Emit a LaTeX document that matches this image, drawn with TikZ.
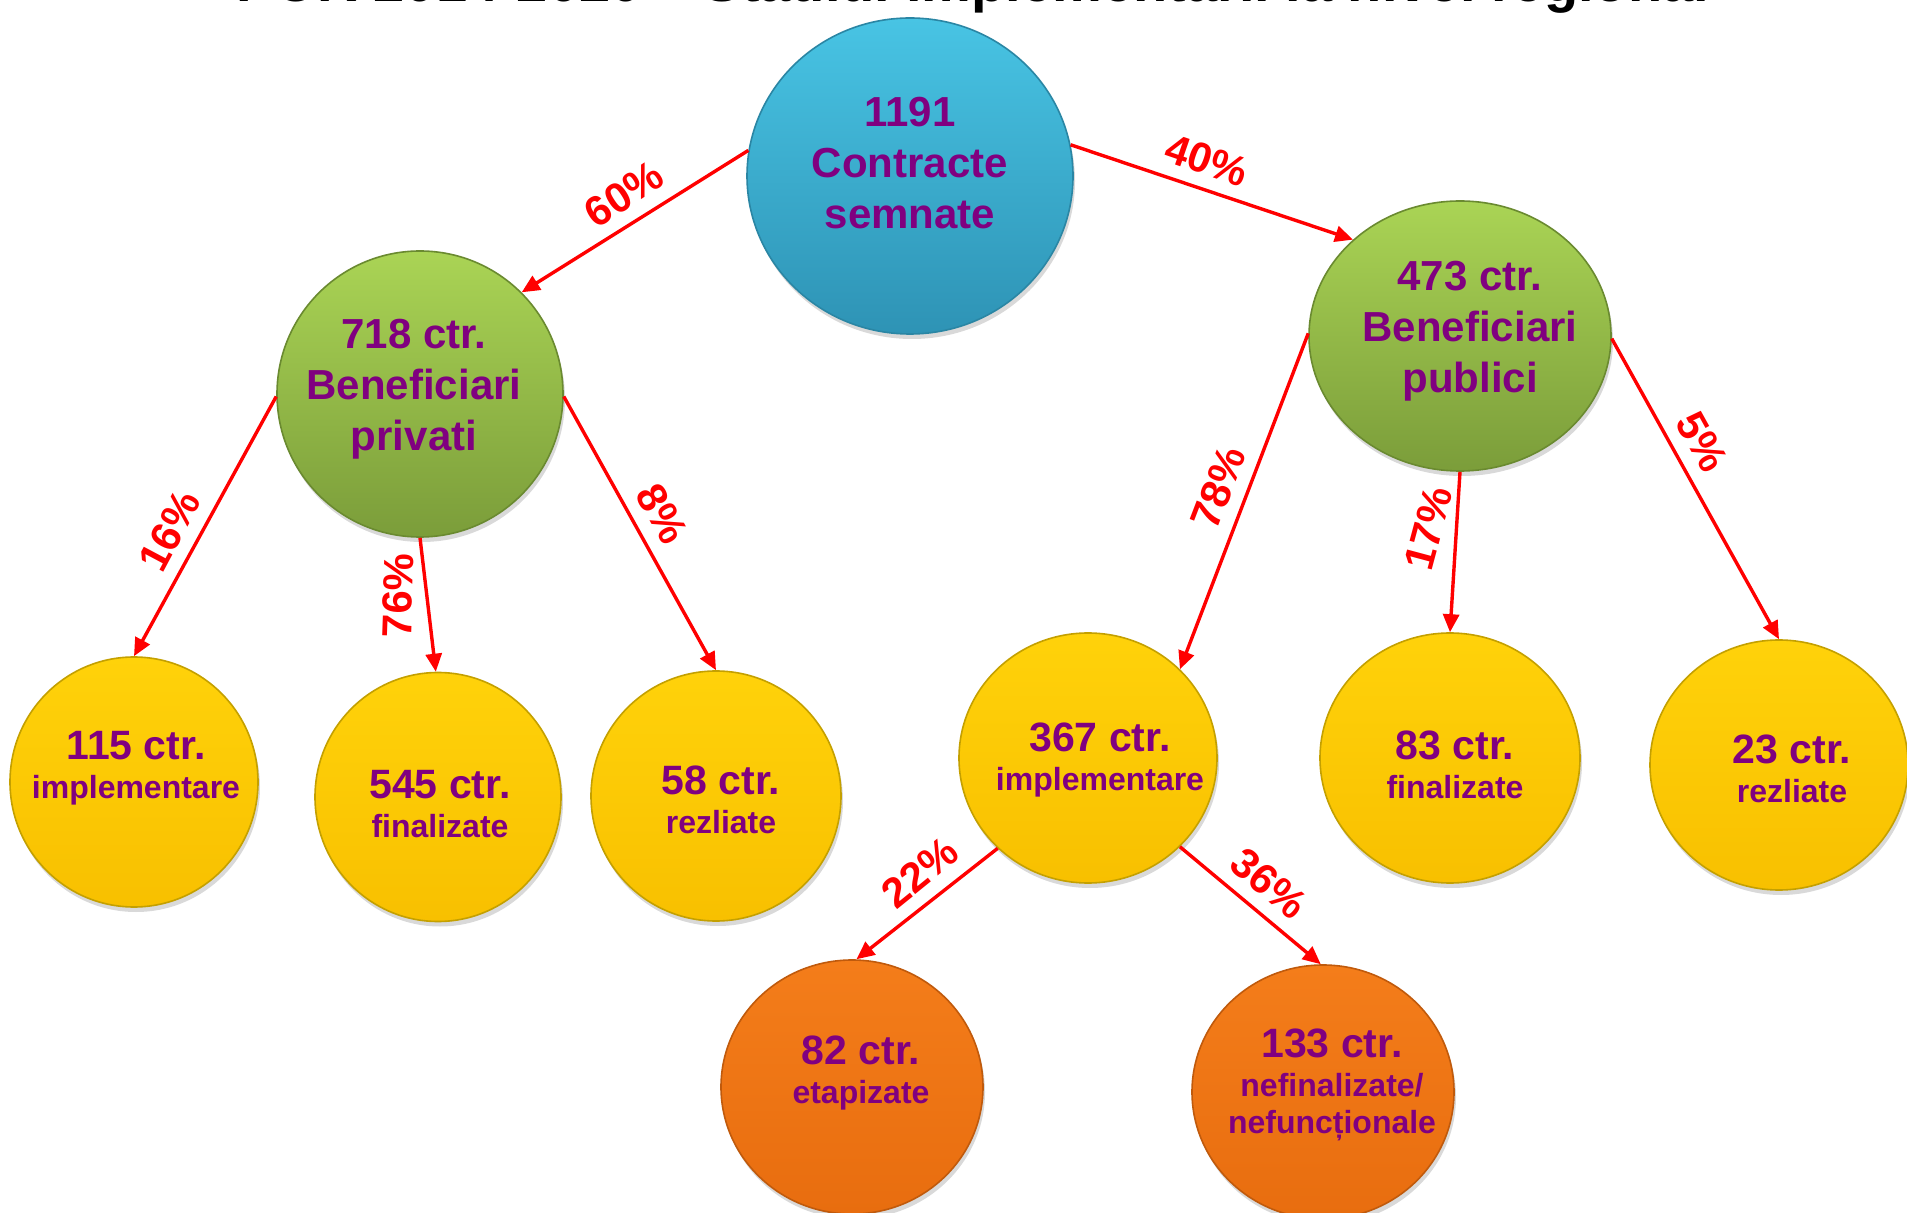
\documentclass[tikz,border=0pt]{standalone}
\usepackage{fontspec}
\setmainfont{Liberation Sans}
\usepackage{tikz}
\usetikzlibrary{shapes.geometric,arrows.meta,shadows}
\definecolor{plum}{HTML}{800080}
\definecolor{skyT}{HTML}{48C4E4}
\definecolor{skyB}{HTML}{2E93B5}
\definecolor{skyD}{HTML}{2A86A4}
\definecolor{grassT}{HTML}{AAD455}
\definecolor{grassB}{HTML}{7B9D3A}
\definecolor{grassD}{HTML}{6A8A30}
\definecolor{sunT}{HTML}{FFD20A}
\definecolor{sunB}{HTML}{F8C000}
\definecolor{sunD}{HTML}{C4A000}
\definecolor{rustT}{HTML}{F47D1A}
\definecolor{rustB}{HTML}{E86D0F}
\definecolor{rustD}{HTML}{C05A0C}
\newcommand\bigline[1]{{\fontsize{20.5pt}{22pt}\selectfont #1}}

\begin{document}
\begin{tikzpicture}[x=0.5pt,y=-0.5pt,
  ball/.style={ellipse,inner sep=0pt,line width=0.8pt,
    drop shadow={opacity=0.3,shadow xshift=1pt,shadow yshift=-2.5pt}},
  skyball/.style={ball,top color=skyT,bottom color=skyB,draw=skyD},
  grassball/.style={ball,top color=grassT,bottom color=grassB,draw=grassD},
  sunball/.style={ball,top color=sunT,bottom color=sunB,draw=sunD},
  rustball/.style={ball,top color=rustT,bottom color=rustB,draw=rustD},
  toptext/.style={font=\bfseries\fontsize{21pt}{25.5pt}\selectfont,text=plum,align=center,inner sep=0pt},
  subtext/.style={font=\bfseries\fontsize{16pt}{19.5pt}\selectfont,text=plum,align=center,inner sep=0pt},
  arr/.style={draw=red,line width=1.7pt,-{Triangle[length=9pt,width=8pt]}},
  pct/.style={font=\bfseries\fontsize{21pt}{25pt}\selectfont,text=red,inner sep=1pt,outer sep=6pt,anchor=south}]
\useasboundingbox (0,0) rectangle (1907,1213);

\node[font=\bfseries\fontsize{28pt}{30pt}\selectfont,anchor=base] (title) at (973,2) {POR 2014-2020 – Stadiul implementării la nivel regional};

\node[skyball,minimum width=163pt,minimum height=158pt] (root) at (910,176) {};
\node[grassball,minimum width=143pt,minimum height=143pt] (a) at (420,394) {};
\node[grassball,minimum width=151pt,minimum height=135pt] (b) at (1460,336) {};
\node[sunball,minimum width=124pt,minimum height=125pt] (a1) at (134,782) {};
\node[sunball,minimum width=123pt,minimum height=124.5pt] (a2) at (438,797) {};
\node[sunball,minimum width=125pt,minimum height=125pt] (a3) at (716,796) {};
\node[sunball,minimum width=129pt,minimum height=125pt] (b1) at (1088,758) {};
\node[sunball,minimum width=130pt,minimum height=125pt] (b2) at (1450,758) {};
\node[sunball,minimum width=129pt,minimum height=125pt] (b3) at (1779,765) {};
\node[rustball,minimum width=131pt,minimum height=127pt] (c1) at (852,1087) {};
\node[rustball,minimum width=131pt,minimum height=127pt] (c2) at (1323,1092) {};

\node[toptext] (roottxt) at (910,163) {1191\\Contracte\\semnate};
\node[toptext] (atxt) at (414,389) {718 ctr.\\Beneficiari\\privati};
\node[toptext] (btxt) at (1470,331) {473 ctr.\\Beneficiari\\publici};
\node[subtext] (a1txt) at (136,768) {\bigline{115 ctr.}\\implementare};
\node[subtext] (a2txt) at (440,804) {\bigline{545 ctr.}\\finalizate};
\node[subtext] (a3txt) at (721,800) {\bigline{58 ctr.}\\rezliate};
\node[subtext] (b1txt) at (1100,760) {\bigline{367 ctr.}\\implementare};
\node[subtext] (b2txt) at (1455,765) {\bigline{83 ctr.}\\finalizate};
\node[subtext] (b3txt) at (1792,769) {\bigline{23 ctr.}\\rezliate};
\node[subtext] (c1txt) at (861,1073) {\bigline{82 ctr.}\\etapizate};
\node[subtext] (c2txt) at (1332,1085) {\bigline{133 ctr.}\\nefinalizate/\\[-1pt]nefuncționale};

\draw[arr] (root.171) -- node[pct,rotate=33,pos=.48] {60\%} (a.45);
\draw[arr] (root.11) -- node[pct,rotate=-19,pos=.45] {40\%} (b.138);
\draw[arr] (a.181) -- node[pct,rotate=62,pos=.57] {16\%} (a1.90);
\draw[arr] (a.270) -- node[pct,rotate=88,pos=.44] {76\%} (a2.91);
\draw[arr] (a.359) -- node[pct,rotate=-61,pos=.48] {8\%} (a3.90);
\draw[arr] (b.179) -- node[pct,rotate=69,pos=.49] {78\%} (b1.44);
\draw[arr] (b.270) -- node[pct,rotate=75,pos=.40] {17\%} (b2.90);
\draw[arr] (b.359) -- node[pct,rotate=-61,pos=.39] {5\%} (b3.90);
\draw[arr] (b1.225) -- node[pct,rotate=39,pos=.42] {22\%} (c1.88);
\draw[arr] (b1.316) -- node[pct,rotate=-40,pos=.50] {36\%} (c2.91);
\end{tikzpicture}
\end{document}
